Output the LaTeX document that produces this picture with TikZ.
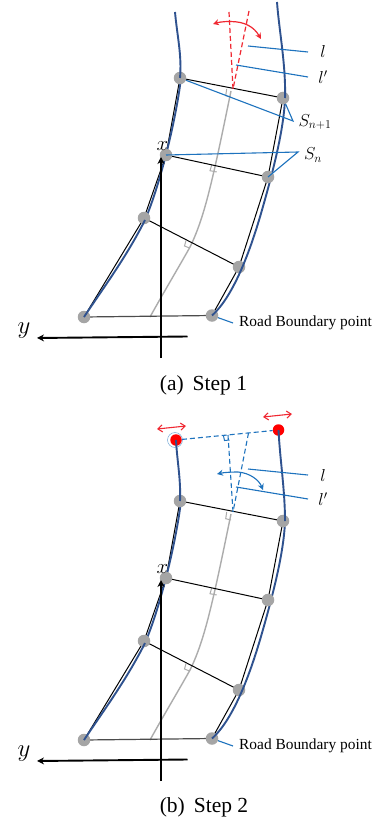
\documentclass[tikz,border=0pt]{standalone}
\usepackage{fontspec}
\setmainfont{Liberation Serif}
\usetikzlibrary{arrows.meta}
\pgfdeclarelayer{back}
\pgfdeclarelayer{lines}
\pgfsetlayers{back,lines,main}
\definecolor{roadblue}{RGB}{47,82,143}
\definecolor{leader}{RGB}{30,115,190}
\definecolor{ptgray}{RGB}{165,165,165}
\definecolor{mygray}{RGB}{172,172,172}
\definecolor{myred}{RGB}{240,40,50}
\tikzset{
  pt/.style={circle,fill=ptgray,minimum size=12.5pt,inner sep=0pt},
  redpt/.style={circle,fill=red,minimum size=11.5pt,inner sep=0pt},
  road/.style={roadblue,line width=1.9pt},
  seg/.style={black,line width=1pt},
  lead/.style={leader,line width=1.1pt},
  cline/.style={mygray,line width=1.4pt},
  axisarrow/.style={black,line width=1.9pt,-{Stealth[length=7pt,width=7pt]}},
  lab/.style={inner sep=0pt,font=\fontsize{18}{18}\selectfont},
  txt/.style={inner xsep=6pt,inner ysep=0pt,font=\fontsize{15.4}{17}\selectfont},
  captxt/.style={inner sep=0pt,font=\fontsize{21.5}{23}\selectfont},
  rmark/.style={mygray,line width=1pt},
  dashline/.style={dash pattern=on 5pt off 3pt},
  dbl/.style={myred,line width=1.1pt,{Straight Barb[length=4.5pt,width=7pt]}-{Straight Barb[length=4.5pt,width=7pt]}},
}
% #1 prefix, #2 y offset
\newcommand{\roadframe}[2]{%
\begin{scope}[yshift=-#2pt]
  \node[pt] (#1a1) at (180,78) {};
  \node[pt] (#1b1) at (283,98) {};
  \node[pt] (#1a2) at (166,155) {};
  \node[pt] (#1b2) at (268,177) {};
  \node[pt] (#1a3) at (144,218) {};
  \node[pt] (#1b3) at (239,267) {};
  \node[pt] (#1a4) at (84,317) {};
  \node[pt] (#1b4) at (212,315.5) {};
  \begin{pgfonlayer}{lines}
  % centre line
  \draw[cline] (150,317) .. controls (165,290) and (180,265) .. (190,247)
     .. controls (201,225) and (208,197) .. (214,171)
     .. controls (220,145) and (226,115) .. (231,91);
  % right-angle marks
  \draw[rmark] (226.7,89) -- (225.7,95.7) -- (231,97);
  \draw[rmark] (211.7,165) -- (210,170.7) -- (216.7,172);
  \draw[rmark] (186,240.5) -- (184.5,246) -- (189.5,248);
  % cross segments
  \draw[seg] (#1a1.center) -- (#1b1.center);
  \draw[seg] (#1a2.center) -- (#1b2.center);
  \draw[seg] (#1a3.center) -- (#1b3.center);
  \draw[black!70,line width=1.2pt] (#1a4.center) -- (#1b4.center);
  % piecewise boundary
  \draw[seg] (#1a4.center) -- (#1a3.center) -- (#1a2.center) -- (#1a1.center);
  \draw[seg] (#1b4.center) -- (#1b3.center) -- (#1b2.center) -- (#1b1.center);
  % upper road edges
  \draw[road] (145,220) .. controls (160,185) and (176,120) .. (181,78);
  \draw[road] (262,210) .. controls (272,175) and (284,130) .. (285,98);
  \end{pgfonlayer}
  % lower road edges, over the points
  \draw[road] (#1a4.center) .. controls (104,287) and (127,256) .. (145,220);
  \draw[road] (#1b4.center) .. controls (235,295) and (252,245) .. (262,210);
  % axes
  \coordinate (#1xs) at (161,358);
  \coordinate (#1xe) at (161,157);
  \coordinate (#1ys) at (187.5,336.5);
  \coordinate (#1ye) at (37,338);
  \draw[axisarrow] (#1xs) -- (#1xe);
  \draw[axisarrow] (#1ys) -- (#1ye);
  \node[lab,font=\fontsize{20}{20}\selectfont] (#1xl) at (162.5,146) {$x$};
  \node[lab,font=\fontsize{24}{24}\selectfont] (#1yl) at (24,331) {$y$};
  % label
  \node[txt,anchor=west] (#1rb) at (233,323) {Road Boundary point};
  \draw[lead] (#1b4) -- (#1rb.west);
\end{scope}}
\begin{document}
\begin{tikzpicture}[x=1pt,y=-1pt]
\useasboundingbox (0,0) rectangle (379,821);
\begin{pgfonlayer}{back}
\fill[white] (0,0) rectangle (379,821);
\end{pgfonlayer}
% ---------- panel (a)
\roadframe{p}{0}
\draw[road] (175,12) .. controls (177,35) and (182,55) .. (pa1.center);
\draw[road] (277,2) .. controls (279,30) and (286,65) .. (285,98);
\coordinate (lt) at (229,12);
\coordinate (lpt) at (249,11);
\coordinate (foot) at (233,89);
\draw[myred,line width=1.2pt,dashline] (lt) -- (foot);
\draw[myred,line width=1.2pt,dashline] (lpt) -- (foot);
\coordinate (arcs) at (213,24);
\coordinate (arce) at (261,39);
\draw[myred,line width=1.2pt,-{Stealth[length=6pt,width=6pt]}] (230,21.5) .. controls (222,21.5) and (218,22.5) .. (arcs);
\draw[myred,line width=1.2pt,-{Stealth[length=6pt,width=6pt]}] (230,21.5) .. controls (245,21.5) and (254,27) .. (arce);
\coordinate (l1s) at (248,46); \coordinate (l1e) at (308,52);
\coordinate (l2s) at (236,65); \coordinate (l2e) at (308,77);
\draw[lead] (l1s) -- (l1e);
\draw[lead] (l2s) -- (l2e);
\node[lab] (ltext) at (323,52) {$l$};
\node[lab] (lptext) at (323,77) {$l'$};
\node[lab] (snp) at (315,122) {$S_{n+1}$};
\node[lab] (sn) at (313,155) {$S_n$};
\coordinate (snpv) at (293,121);
\coordinate (snv) at (298,152);
\draw[lead] (pa1) -- (snpv) -- (pb1);
\draw[lead] (pa2.center) -- (snv) -- (pb2.center);
\node[captxt] (capa) at (203.5,385) {(a)\, Step 1};
% ---------- panel (b)
\roadframe{q}{423}
\begin{pgfonlayer}{lines}
\draw[leader!60,line width=0.5pt] (175,440) circle (7.5pt);
\end{pgfonlayer}
\node[redpt] (r1) at (176,440) {};
\node[redpt] (r2) at (278.5,430) {};
\draw[road] (r1.center) .. controls (177,460) and (181,480) .. (qa1.center);
\draw[road] (r2.center) .. controls (280,460) and (285,490) .. (285,521);
\draw[lead,dashline] (r1) -- (r2);
\coordinate (tl) at (228,435);
\coordinate (tlp) at (248.5,433);
\coordinate (qfoot) at (233,512);
\draw[lead,dashline] (tl) -- (qfoot);
\draw[lead,dashline] (tlp) -- (qfoot);
\draw[lead,line width=1pt] (223.5,436) -- (224.5,440.5) -- (229.5,440);
\coordinate (bs) at (217,474);
\coordinate (be) at (263,490);
\draw[lead,-{Stealth[length=6pt,width=6pt]}] (238,472) .. controls (230,472) and (224,472.5) .. (bs);
\draw[lead,-{Stealth[length=6pt,width=6pt]}] (238,472) .. controls (250,473) and (259,480) .. (be);
\coordinate (m1s) at (248,469); \coordinate (m1e) at (308,475);
\coordinate (m2s) at (236,487); \coordinate (m2e) at (308,499);
\draw[lead] (m1s) -- (m1e);
\draw[lead] (m2s) -- (m2e);
\node[lab] (mtext) at (323,475) {$l$};
\node[lab] (mptext) at (323,499) {$l'$};
\coordinate (d1a) at (157,429); \coordinate (d1b) at (186,426);
\coordinate (d2a) at (263,417); \coordinate (d2b) at (292,414);
\draw[dbl] (d1a) -- (d1b);
\draw[dbl] (d2a) -- (d2b);
\node[captxt] (capb) at (204,807) {(b)\, Step 2};
\end{tikzpicture}
\end{document}
